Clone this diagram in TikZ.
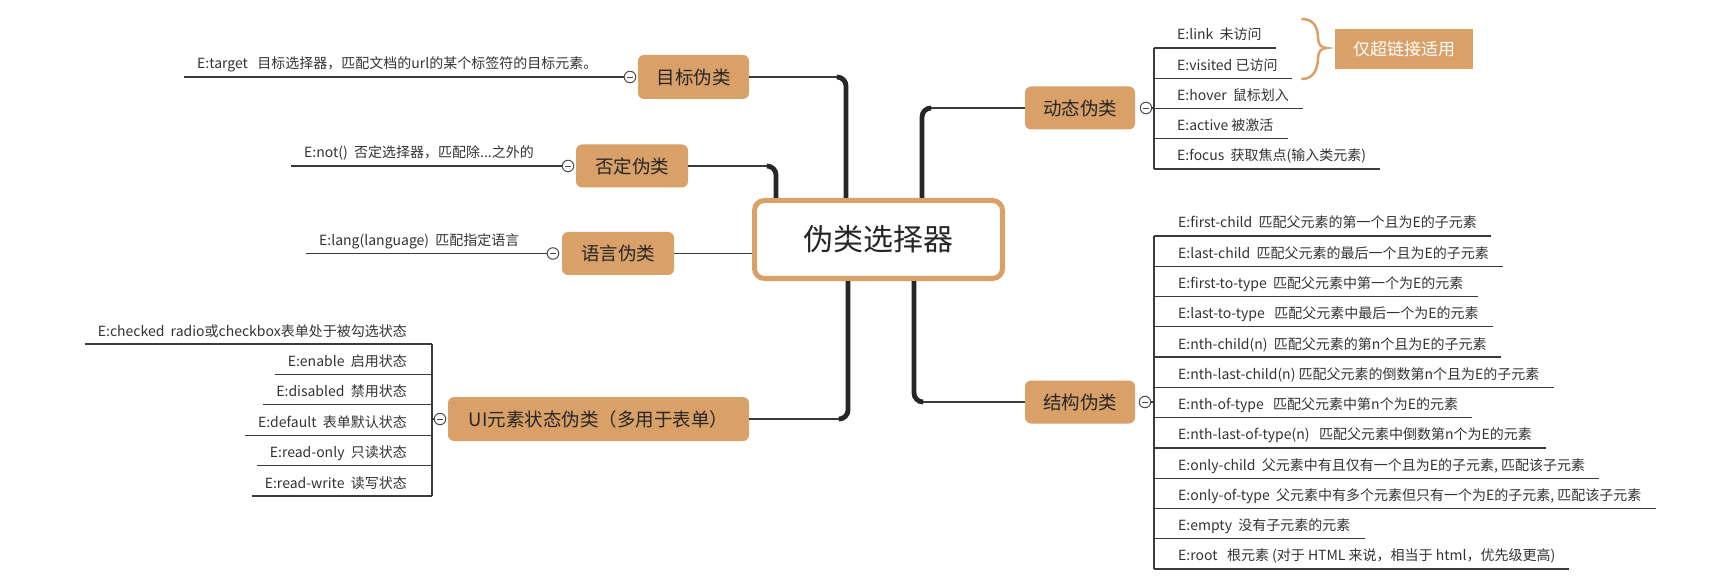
\documentclass[tikz,border=0pt]{standalone}
\usepackage{fontspec}
\setmainfont{Noto Sans CJK SC}
\usetikzlibrary{calc}
\definecolor{orng}{HTML}{D9A068}
\definecolor{txt}{HTML}{333333}
\definecolor{ln}{HTML}{3A3A3A}
\begin{document}
\begin{tikzpicture}[x=1pt,y=-1pt,
  child/.style={font=\fontsize{14}{16}\selectfont, text=txt, inner sep=0pt},
  branch/.style={fill=orng, rounded corners=6pt, minimum width=112pt, minimum height=43pt, inner sep=0pt, font=\fontsize{18.5}{22}\selectfont, text=black!85},
  cline/.style={draw=ln, line width=1.3pt},
  trunk/.style={draw=black!85, line width=4.8pt, rounded corners=9pt},
  knob/.style={circle, draw=black!70, fill=white, line width=1pt, minimum size=11.5pt, inner sep=0pt,
    path picture={\draw[line width=0.8pt,black!70] ([xshift=-2.8pt]path picture bounding box.center) -- ([xshift=2.8pt]path picture bounding box.center);}}
]
\useasboundingbox (0,0) rectangle (1714,588);

% ---------- centre ----------
\node[draw=orng, line width=5pt, fill=white, rounded corners=10pt, minimum width=248pt, minimum height=78pt, inner sep=0pt, font=\fontsize{30}{36}\selectfont, text=black!85] (root) at (878.5,239.5) {伪类选择器};

% ---------- branch boxes ----------
\node[branch, minimum width=111pt, minimum height=44pt] (tb) at (693.5,77) {目标伪类};
\node[branch] (nb) at (632,166) {否定伪类};
\node[branch] (lb) at (618,253.5) {语言伪类};
\node[branch, minimum width=301pt, minimum height=44pt] (ub) at (598.5,419) {UI元素状态伪类（多用于表单）};
\node[branch, minimum width=110pt] (db) at (1080,108) {动态伪类};
\node[branch, minimum width=110pt] (sb) at (1080,402) {结构伪类};

% ---------- knobs ----------
\node[knob] (tk) at (630,77) {};
\node[knob] (nk) at (568,166) {};
\node[knob] (lk) at (553,253.5) {};
\node[knob] (uk) at (440,419) {};
\node[knob] (dk) at (1146,108) {};
\node[knob] (sk) at (1145,402) {};

% ---------- trunks ----------
\coordinate (tc) at (838,77);
\coordinate (tcv) at (846,77);
\draw[cline] (tb.east) -- (tc);
\draw[trunk] (tc) -- (tcv) -- (tcv |- root.north);

\coordinate (nc) at (768,166);
\coordinate (ncv) at (776,166);
\draw[cline] (nb.east) -- (nc);
\draw[trunk] (nc) -- (ncv) -- (ncv |- root.north);

\draw[cline] (lb.east) -- (lb.east -| root.west);

\coordinate (dc) at (930,108);
\coordinate (dcv) at (922,108);
\draw[cline] (db.west) -- (dc);
\draw[trunk] (dc) -- (dcv) -- (dcv |- root.north);

\coordinate (sc) at (922,402);
\coordinate (scv) at (914,402);
\draw[cline] (sb.west) -- (sc);
\draw[trunk] (sc) -- (scv) -- (scv |- root.south);

\coordinate (uc) at (840,419);
\coordinate (ucv) at (848,419);
\draw[cline] (ub.east) -- (uc);
\draw[trunk] (uc) -- (ucv) -- (ucv |- root.south);

% ---------- left single children ----------
\node[child, anchor=base west] (t1) at (197,69) {E:target\ \ \ 目标选择器，匹配文档的url的某个标签符的目标元素。};
\coordinate (t1s) at ([xshift=-13pt]t1.west);
\draw[cline] (t1s |- tk) -- (tk.west);

\node[child, anchor=base west] (n1) at (304,158) {E:not()\ \ 否定选择器，匹配除...之外的};
\coordinate (n1s) at ([xshift=-13pt]n1.west);
\draw[cline] (n1s |- nk) -- (nk.west);

\node[child, anchor=base west] (l1) at (319,245.5) {E:lang(language)\ \ 匹配指定语言};
\coordinate (l1s) at ([xshift=-13pt]l1.west);
\draw[cline] (l1s |- lk) -- (lk.west);

% ---------- UI children ----------
\foreach \t [count=\i from 0] in {
  {E:checked\ \ radio或checkbox表单处于被勾选状态},
  {E:enable\ \ 启用状态},
  {E:disabled\ \ 禁用状态},
  {E:default\ \ 表单默认状态},
  {E:read-only\ \ 只读状态},
  {E:read-write\ \ 读写状态}} {
  \pgfmathsetmacro\yy{344+30.4*\i}
  \coordinate (uv\i) at (432,\yy);
  \node[child, anchor=base east] (u\i) at (407,\yy-8) {\t};
  \draw[cline] ($(uv\i -| u\i.west)+(-13,0)$) -- (uv\i);
}
\draw[cline] (uv0) -- (uv5);
\draw[cline] (uk.west) -- (uk.west -| uv0);

% ---------- dynamic children ----------
\foreach \t [count=\i from 0] in {
  {E:link\ \ 未访问},
  {E:visited 已访问},
  {E:hover\ \ 鼠标划入},
  {E:active 被激活},
  {E:focus\ \ 获取焦点(输入类元素)}} {
  \pgfmathsetmacro\yy{48+30.25*\i}
  \coordinate (dv\i) at (1154,\yy);
  \node[child, anchor=base west] (d\i) at (1177,\yy-8) {\t};
  \draw[cline] (dv\i) -- ($(dv\i -| d\i.east)+(14,0)$);
}
\draw[cline] (dv0) -- (dv4);
\draw[cline] (dk.east) -- (dk.east -| dv0);

% brace + label
\draw[orng, line width=2.5pt, line cap=round]
  (1302,19) .. controls (1314,19) and (1318,28) .. (1318,38)
  .. controls (1318,44) and (1321,48) .. (1327,48)
  .. controls (1321,48) and (1318,52) .. (1318,58)
  .. controls (1318,68) and (1314,79) .. (1302,79);
\node[fill=orng, minimum width=138pt, minimum height=40pt, inner sep=0pt, text=white, font=\fontsize{17}{20}\selectfont] (hl) at (1404,49) {仅超链接适用};

% ---------- structural children ----------
\foreach \t [count=\i from 0] in {
  {E:first-child\ \ 匹配父元素的第一个且为E的子元素},
  {E:last-child\ \ 匹配父元素的最后一个且为E的子元素},
  {E:first-to-type\ \ 匹配父元素中第一个为E的元素},
  {E:last-to-type\ \ \ 匹配父元素中最后一个为E的元素},
  {E:nth-child(n)\ \ 匹配父元素的第n个且为E的子元素},
  {E:nth-last-child(n) 匹配父元素的倒数第n个且为E的子元素},
  {E:nth-of-type\ \ \ 匹配父元素中第n个为E的元素},
  {E:nth-last-of-type(n)\ \ \ 匹配父元素中倒数第n个为E的元素},
  {E:only-child\ \ 父元素中有且仅有一个且为E的子元素, 匹配该子元素},
  {E:only-of-type\ \ 父元素中有多个元素但只有一个为E的子元素, 匹配该子元素},
  {E:empty\ \ 没有子元素的元素},
  {E:root\ \ \ 根元素 (对于 HTML 来说，相当于 html，优先级更高)}} {
  \pgfmathsetmacro\yy{236+30.27*\i}
  \coordinate (sv\i) at (1154,\yy);
  \node[child, anchor=base west] (s\i) at (1178,\yy-8) {\t};
  \draw[cline] (sv\i) -- ($(sv\i -| s\i.east)+(14,0)$);
}
\draw[cline] (sv0) -- (sv11);
\draw[cline] (sk.east) -- (sk.east -| sv0);
\end{tikzpicture}
\end{document}
